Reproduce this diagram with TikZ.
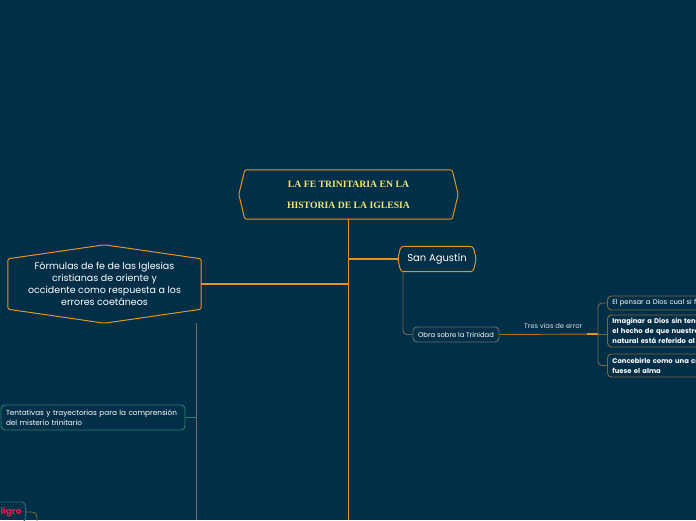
\documentclass[tikz,border=0pt]{standalone}
\usepackage{fontspec}
\setmainfont{Poppins}
\newfontfamily\titlefont{Liberation Serif}
\usetikzlibrary{calc,positioning}
\definecolor{bgnavy}{RGB}{2,47,72}
\definecolor{mapor}{RGB}{228,148,34}
\definecolor{titleyel}{RGB}{242,228,110}
\definecolor{olivln}{RGB}{122,104,64}
\definecolor{grayln}{RGB}{118,108,98}
\definecolor{tealln}{RGB}{38,128,108}
\definecolor{obraln}{RGB}{96,112,104}
\definecolor{errln}{RGB}{176,112,36}
\definecolor{redtxt}{RGB}{236,22,82}
\definecolor{bluebox}{RGB}{58,98,128}
\tikzset{
  orln/.style={line width=1.1pt, mapor},
  thinln/.style={line width=0.9pt, #1},
  hexln/.style={line width=1pt, mapor, rounded corners=1.5pt},
  rootn/.style={inner sep=0pt, minimum width=207pt, minimum height=49pt,
    text=titleyel, align=center,
    font=\titlefont\bfseries\fontsize{9.7}{21}\selectfont},
  formn/.style={inner sep=0pt, minimum width=193pt, minimum height=50pt,
    text=white, align=center, font=\fontsize{9.5}{12}\selectfont},
  agusn/.style={inner sep=0pt, minimum width=72pt, minimum height=25pt,
    text=white, font=\fontsize{10}{12}\selectfont},
  leaf/.style={draw=#1, line width=0.9pt, rounded corners=4pt, text=white,
    align=left, inner xsep=5pt, inner ysep=0pt,
    font=\fontsize{6.8}{10}\selectfont},
  errbox/.style={leaf=olivln, anchor=west, text width=190pt},
  lblsmall/.style={inner sep=0pt, text=white!85!bgnavy,
    font=\fontsize{6.8}{9}\selectfont},
}
\begin{document}
\begin{tikzpicture}[x=1pt,y=-1pt]
  \useasboundingbox (0,0) rectangle (696,520);
  \clip (0,0) rectangle (696,520);
  \fill[bgnavy] (0,0) rectangle (696,520);
  % --- central topic ---
  \node[rootn] (root) at (348.5,194.5) {LA FE TRINITARIA EN LA\\HISTORIA DE LA IGLESIA};
  \draw[hexln] (root.north west) -- (root.north east) -- ([xshift=6pt]root.east)
    -- (root.south east) -- (root.south west) -- ([xshift=-6pt]root.west) -- cycle;
  \coordinate (trunkend) at (348.5,520);
  \draw[orln] (root.south) -- (trunkend);
  % --- left branch ---
  \node[formn] (form) at (104.5,284) {Fórmulas de fe de las Iglesias\\cristianas de oriente y\\occidente como respuesta a los\\errores coetáneos};
  \draw[hexln] (form.north west) -- ([yshift=14pt]form.north) -- (form.north east)
    -- (form.south east) -- ([yshift=-14pt]form.south) -- (form.south west) -- cycle;
  \draw[orln] (form.east) -- (form.east -| trunkend);
  \coordinate (formdrop) at (196,323);
  \coordinate (formend) at (196,520);
  \draw[thinln=grayln] (formdrop) -- (formend);
  \node[leaf=tealln, text width=174pt, minimum height=25pt,
    font=\fontsize{7.3}{10}\selectfont] (tent) at (93,417.5)
    {Tentativas y trayectorias para la comprensión\\del misterio trinitario};
  \draw[thinln=tealln] (tent.east) -- (tent.east -| formdrop);
  \node[leaf=bluebox, anchor=east, minimum height=20pt, inner xsep=4pt,
    text=redtxt, font=\bfseries\fontsize{9}{10}\selectfont] (pelig) at (26,512) {Peligro};
  \coordinate (peldown) at (37,525);
  \draw[thinln=olivln, rounded corners=5pt] (pelig.east) -| (peldown);
  % --- right branch ---
  \node[agusn] (agus) at (437,259) {San Agustín};
  \draw[hexln, rounded corners=3pt] (agus.north west) -- (agus.north east) -- ([xshift=3pt]agus.east)
    -- (agus.south east) -- (agus.south west) -- ([xshift=-3pt]agus.west) -- cycle;
  \draw[orln] ([xshift=-3pt]agus.west) -- (agus.west -| trunkend);
  \node[leaf=obraln, minimum width=86pt, minimum height=15pt, align=center] (obra) at (456,334.5)
    {Obra sobre la Trinidad};
  \draw[thinln=olivln, rounded corners=4pt] ([xshift=-34pt]agus.south) |- (obra.west);
  \coordinate (brk) at (598,334);
  \draw[thinln=errln] (obra.east) -- (brk)
    node[lblsmall, pos=0.545, yshift=8pt] {Tres vías de error};
  \draw[orln] ($(brk)+(-11,0)$) -- (brk);
  \node[errbox, minimum height=14pt] (err1) at (607,303)
    {El pensar a Dios cual si fuese un cuerpo};
  \node[errbox, minimum height=32pt, font=\bfseries\fontsize{6.8}{10}\selectfont] (err2) at (607,331)
    {Imaginar a Dios sin tener en cuenta\\el hecho de que nuestro conocer\\natural está referido al mundo};
  \node[errbox, minimum height=23pt, font=\bfseries\fontsize{6.8}{10}\selectfont] (err3) at (607,365.5)
    {Concebirle como una criatura espiritual, como si\\fuese el alma};
  \draw[thinln=olivln, rounded corners=4pt] (brk) |- (err1.west);
  \draw[thinln=olivln, rounded corners=4pt] (brk) |- (err3.west);
  \draw[thinln=olivln] (brk) -- (brk -| err2.west);
\end{tikzpicture}
\end{document}
